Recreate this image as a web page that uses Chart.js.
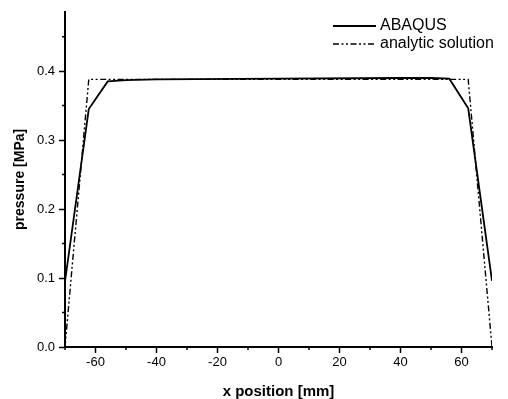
<!DOCTYPE html>
<html>
<head>
<meta charset="utf-8">
<script src="https://cdn.jsdelivr.net/npm/chart.js@4/dist/chart.umd.min.js"></script>
<style>
	html, body { margin: 0; padding: 0; background: #fff; }
	#graficoPressao { display: block; }
</style>
</head>
<body>
<canvas id="graficoPressao" width="508" height="399"></canvas>
<script>
// curva ABAQUS (mm, MPa)
var posicaoAbaqus = [-70, -62.2, -56, -50, -40, 0, 40, 50, 56, 62.2, 70];
var pressaoAbaqus = [0.095, 0.345, 0.385, 0.387, 0.388, 0.389, 0.39, 0.39, 0.389, 0.346, 0.096];

// solucao analitica
var posicaoAnalitica = [-70, -62.2, 62.2, 70];
var pressaoAnalitica = [0, 0.388, 0.388, 0];

var ticksX = [-60, -40, -20, 0, 20, 40, 60];
var ticksMenoresX = [-70, -50, -30, -10, 10, 30, 50, 70];
var ticksY = [0, 0.1, 0.2, 0.3, 0.4];
var ticksMenoresY = [0.05, 0.15, 0.25, 0.35, 0.45];

var rotulos = ['ABAQUS', 'analytic solution'];

var fonte = '"Liberation Sans", Arial, sans-serif';

function pontos(xs, ys) {
	return xs.map(function(x, i) { return { x: x, y: ys[i] }; });
}

var ticksMenores = {
	id: 'ticksMenores',
	afterDraw: function(chart) {
		var ctx = chart.ctx;
		var area = chart.chartArea;
		var escalaX = chart.scales.x;
		var escalaY = chart.scales.y;
		ctx.save();
		ctx.strokeStyle = '#000';
		ctx.lineWidth = 1.5;
		ctx.beginPath();
		ticksMenoresX.forEach(function(v) {
			var px = escalaX.getPixelForValue(v);
			ctx.moveTo(px, area.bottom);
			ctx.lineTo(px, area.bottom + 3);
		});
		ticksMenoresY.forEach(function(v) {
			var py = escalaY.getPixelForValue(v);
			ctx.moveTo(area.left, py);
			ctx.lineTo(area.left - 3, py);
		});
		ctx.stroke();
		ctx.restore();
	}
};

var legenda = {
	id: 'legenda',
	afterDraw: function(chart) {
		var ctx = chart.ctx;
		chart.data.datasets.forEach(function(ds, i) {
			var y = 26 + i * 18;
			ctx.save();
			ctx.strokeStyle = ds.borderColor;
			ctx.lineWidth = ds.borderWidth;
			ctx.setLineDash(ds.borderDash || []);
			ctx.beginPath();
			ctx.moveTo(333, y);
			ctx.lineTo(376, y);
			ctx.stroke();
			ctx.setLineDash([]);
			ctx.fillStyle = '#000';
			ctx.font = '16px ' + fonte;
			ctx.textBaseline = 'middle';
			ctx.fillText(ds.label, 380, y);
			ctx.restore();
		});
	}
};

var ctx = document.getElementById('graficoPressao').getContext('2d');

var grafico = new Chart(ctx, {
	type: 'scatter',
	data: {
		datasets: [{
			label: rotulos[0],
			data: pontos(posicaoAbaqus, pressaoAbaqus),
			showLine: true,
			borderColor: '#000',
			borderWidth: 1.8,
			pointRadius: 0,
			tension: 0
		}, {
			label: rotulos[1],
			data: pontos(posicaoAnalitica, pressaoAnalitica),
			showLine: true,
			borderColor: '#000',
			borderWidth: 1.4,
			borderDash: [6, 2.5, 2, 2.5, 2, 2.5],
			pointRadius: 0,
			tension: 0
		}]
	},
	options: {
		responsive: false,
		animation: false,
		layout: { padding: { left: 12, right: 16, top: 7, bottom: 0 } },
		plugins: {
			legend: { display: false },
			tooltip: { enabled: false }
		},
		scales: {
			x: {
				type: 'linear',
				min: -70,
				max: 70,
				afterBuildTicks: function(escala) {
					escala.ticks = ticksX.map(function(v) { return { value: v }; });
				},
				afterFit: function(escala) { escala.height = 52; },
				border: { display: true, color: '#000', width: 2 },
				grid: { display: true, drawOnChartArea: false, drawTicks: true, tickLength: 6, tickColor: '#000', tickWidth: 1.5 },
				ticks: {
					color: '#000',
					padding: 2,
					maxRotation: 0,
					font: { family: fonte, size: 13 },
					callback: function(v) { return String(v); }
				},
				title: {
					display: true,
					text: 'x position [mm]',
					color: '#000',
					padding: { top: 0, bottom: 0 },
					font: { family: fonte, size: 15, weight: 'bold', lineHeight: 1 }
				}
			},
			y: {
				type: 'linear',
				min: 0,
				max: 0.486,
				afterBuildTicks: function(escala) {
					escala.ticks = ticksY.map(function(v) { return { value: v }; });
				},
				afterFit: function(escala) { escala.width = 53; },
				border: { display: true, color: '#000', width: 2 },
				grid: { display: true, drawOnChartArea: false, drawTicks: true, tickLength: 6, tickColor: '#000', tickWidth: 1.5 },
				ticks: {
					color: '#000',
					padding: 4,
					font: { family: fonte, size: 13 },
					callback: function(v) { return v.toFixed(1); }
				},
				title: {
					display: true,
					text: 'pressure [MPa]',
					color: '#000',
					padding: 0,
					font: { family: fonte, size: 14, weight: 'bold', lineHeight: 1.2 }
				}
			}
		}
	},
	plugins: [ticksMenores, legenda]
});
</script>
</body>
</html>
